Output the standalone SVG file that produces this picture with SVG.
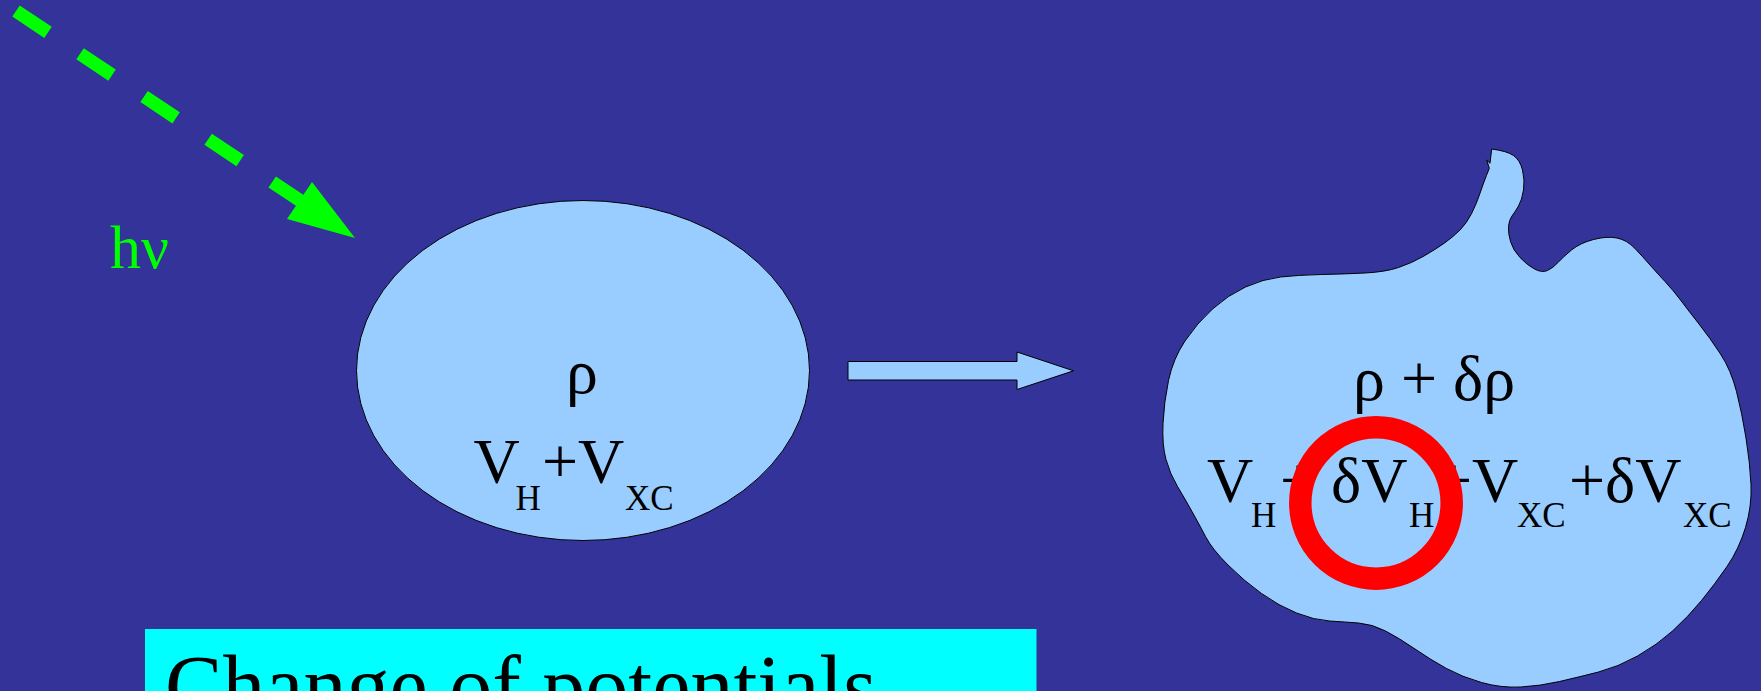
<svg xmlns="http://www.w3.org/2000/svg" width="1761" height="691" viewBox="0 0 1761 691">
<style>
.bg{fill:#333399}
.shape{fill:#99ccff;stroke:#000;stroke-width:1}
.t{font-family:"Liberation Serif","Times New Roman",serif;fill:#000}
.big{font-size:64px}
.sub{font-size:35px}
.green{fill:#00ff00;font-family:"Liberation Serif","Times New Roman",serif;font-size:62px}
</style>
<rect class="bg" x="0" y="0" width="1761" height="691"/>
<g id="connectors">
  <g id="photon-arrow">
    <line x1="16" y1="11" x2="300" y2="200.5" stroke="#00ff00" stroke-width="13.4" stroke-dasharray="38.5 38.5"/>
    <polygon points="312,182 355,238 287,219" fill="#00ff00"/>
  </g>
  <polygon id="block-arrow" class="shape" points="848,361.5 1017,361.5 1017,352 1073.5,370.8 1017,389.5 1017,380 848,380"/>
</g>
<g id="label-hv">
  <text class="green" x="110" y="268">hν</text>
</g>
<g id="ground-state">
  <ellipse class="shape" cx="583" cy="370.5" rx="226.5" ry="170"/>
  <text class="t big" x="582" y="393" text-anchor="middle">ρ</text>
  <text class="t big" y="483"><tspan x="473.5">V</tspan><tspan x="542">+V</tspan></text>
  <text class="t sub" y="510"><tspan x="515.5">H</tspan><tspan x="625">XC</tspan></text>
</g>
<g id="perturbed-state">
  <path class="shape" d="M1491.7,149 L1490,163.3 L1486.7,160 L1489.3,168.3 Q1483.3,183.3 1480,193.3 Q1476.7,203.3 1471.7,213.3 Q1466.7,223.3 1460,230 Q1453.3,236.7 1444.7,242.9 Q1436,249 1424,256 Q1412,263 1398.5,267.5 Q1385,272 1365,273 Q1345,274 1321.5,274.5 Q1298,275 1280.5,277 Q1263,279 1245.5,287 Q1228,295 1212.5,309 Q1197,323 1185,341 Q1173,359 1168.5,380.5 Q1164,402 1163,423.5 Q1162,445 1166,459.5 Q1170,474 1177.5,486.5 Q1185,499 1192,511.5 Q1199,524 1205.5,536.5 Q1212,549 1228,565 Q1244,581 1261.5,593.5 Q1279,606 1296.5,613 Q1314,620 1329.5,621 Q1345,622 1358.5,623 Q1372,624 1385.5,631 Q1399,638 1415,649 Q1431,660 1446.5,668.5 Q1462,677 1481.5,682.5 Q1501,688 1520.5,687 Q1540,686 1559.5,681.5 Q1579,677 1598.5,672 Q1618,667 1637.5,656 Q1657,645 1672.5,631 Q1688,617 1701.5,600.5 Q1715,584 1727,566.5 Q1739,549 1745.5,527.5 Q1752,506 1751,484.5 Q1750,463 1746,438 Q1742,413 1736.5,391.5 Q1731,370 1720.5,354 Q1710,338 1699,324 Q1688,310 1680.5,300 Q1673,290 1665,281.5 Q1657,273 1650,265 Q1643,257 1635,248.5 Q1627,240 1617,238 Q1607,236 1593.5,239.5 Q1580,243 1571.5,250 Q1563,257 1558,262.5 Q1553,268 1547.5,270.5 Q1542,273 1534.5,269 Q1527,265 1520,257.5 Q1513,250 1510.5,241.5 Q1508,233 1508.5,226.5 Q1509,220 1512,216 Q1515,212 1518.5,206 Q1522,200 1523.5,190 Q1525,180 1522.5,170 Q1520,160 1513.5,155.5 Q1507,151 1491.7,149 Z"/>
  <text class="t big" x="1434" y="400" text-anchor="middle">ρ + δρ</text>
  <text class="t big" y="502"><tspan x="1207">V</tspan><tspan x="1280">+</tspan><tspan x="1331">δV</tspan><tspan x="1436">+V</tspan><tspan x="1569">+δV</tspan></text>
  <text class="t sub" y="527"><tspan x="1251">H</tspan><tspan x="1409">H</tspan><tspan x="1517">XC</tspan><tspan x="1683">XC</tspan></text>
  <circle id="highlight-ring" cx="1376" cy="503" r="75.7" fill="none" stroke="#ff0000" stroke-width="22.5"/>
</g>
<g id="caption">
  <rect x="145" y="629" width="891.5" height="70" fill="#00ffff"/>
  <text class="t" x="165" y="715" font-size="86">Change of potentials</text>
</g>
</svg>
